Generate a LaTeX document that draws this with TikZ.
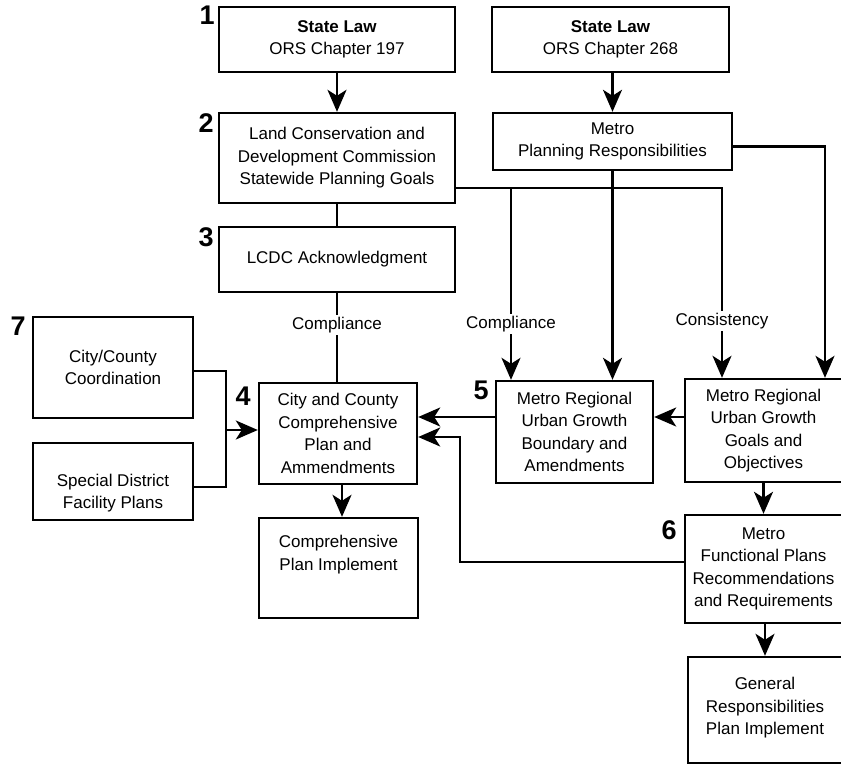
\documentclass[tikz,border=0pt]{standalone}
\usepackage{fontspec}
\setmainfont{Liberation Sans}
\usetikzlibrary{arrows.meta,positioning}

\begin{document}
\begin{tikzpicture}[x=1pt, y=-1pt,
    box/.style={rectangle, draw, line width=2.4pt, inner sep=2pt, align=center, font=\fontsize{17}{22.5}\selectfont},
    num/.style={anchor=north east, inner sep=0pt, font=\fontsize{27}{27}\selectfont\bfseries},
    arrow/.style={-{Stealth[length=22pt,width=19pt,inset=6pt]}, line width=2.4pt},
    link/.style={line width=2.4pt},
    tag/.style={fill=white, inner sep=2pt, font=\fontsize{17}{20}\selectfont}
]
\useasboundingbox (0,0) rectangle (841,764);

% state law and goals
\node[box, minimum width=236pt, minimum height=65pt] (law1) at (337,39.5) {\textbf{State Law}\\ORS Chapter 197};
\node[box, minimum width=237pt, minimum height=65pt] (law2) at (610.5,39.5) {\textbf{State Law}\\ORS Chapter 268};
\node[box, minimum width=236pt, minimum height=90pt] (lcdc) at (337,158) {Land Conservation and\\Development Commission\\Statewide Planning Goals};
\node[box, minimum width=239pt, minimum height=57pt] (metro) at (612.5,141.5) {Metro\\Planning Responsibilities};
\node[box, minimum width=236pt, minimum height=65pt] (ack) at (337,259.5) {LCDC Acknowledgment};

% local plans
\node[box, minimum width=160pt, minimum height=101pt] (coord) at (113,367.5) {City/County\\Coordination};
\node[box, minimum width=160pt, minimum height=77pt, text height=58pt] (special) at (113,481.5) {Special District\\Facility Plans};
\node[box, minimum width=158pt, minimum height=101pt] (comp) at (338,433.5) {City and County\\Comprehensive\\Plan and\\Ammendments};
\node[box, minimum width=159pt, minimum height=100pt, text depth=30pt] (impl) at (338.5,568) {Comprehensive\\Plan Implement};

% metro plans
\node[box, minimum width=157pt, minimum height=102pt] (ugb) at (574.5,432) {Metro Regional\\Urban Growth\\Boundary and\\Amendments};
\node[box, minimum width=157pt, minimum height=103pt] (goals) at (763.5,430.5) {Metro Regional\\Urban Growth\\Goals and\\Objectives};
\node[box, minimum width=157pt, minimum height=108pt] (func) at (763.5,569) {Metro\\Functional Plans\\Recommendations\\and Requirements};
\node[box, minimum width=154pt, minimum height=106pt, text depth=8pt] (gen) at (765,710) {General\\Responsibilities\\Plan Implement};

% step numbers
\node[num] (n1) at ([xshift=-3pt]law1.north west) {1};
\node[num] (n2) at ([xshift=-4pt,yshift=-2pt]lcdc.north west) {2};
\node[num] (n3) at ([xshift=-4pt,yshift=-2pt]ack.north west) {3};
\node[num] (n4) at ([xshift=-7pt,yshift=-5pt]comp.north west) {4};
\node[num] (n5) at ([xshift=-6pt,yshift=-1pt]ugb.north west) {5};
\node[num] (n6) at ([xshift=-7pt,yshift=-7pt]func.north west) {6};
\node[num] (n7) at ([xshift=-6pt,yshift=-1pt]coord.north west) {7};

\coordinate (split) at ([yshift=-30pt]lcdc.east);
\coordinate (cmpl) at ([xshift=-63.5pt]ugb.north);
\coordinate (join) at (226,430);
\coordinate (bend) at (460,437);
\coordinate (a5) at ([yshift=15pt]ugb.west);

\draw[arrow] (law1) -- (lcdc);
\draw[arrow] (law2.south -| metro.north) -- (metro.north);
\draw[link] (lcdc) -- (ack);
\draw[link] (ack.south) -- node[tag, pos=0.36] {Compliance} (ack.south |- comp.north);
\draw[arrow] (split) -| node[tag, pos=0.85] {Consistency} ([xshift=-41.5pt]goals.north);
\draw[arrow] (cmpl |- split) -- node[tag, pos=0.71] {Compliance} (cmpl);
\draw[arrow] (metro.south) -- (metro.south |- ugb.north);
\draw[arrow] ([yshift=-5pt]metro.east) -| ([xshift=61.5pt]goals.north);

\draw[link] ([yshift=-3.5pt]coord.east) -| (join) |- ([yshift=-5.5pt]special.east);
\draw[arrow] (join) -- (join -| comp.west);
\draw[arrow] (a5) -- (a5 -| comp.east);
\draw[arrow] (goals.west |- a5) -- (ugb.east |- a5);
\draw[arrow] ([yshift=7pt]func.west) -| (bend) -- (bend -| comp.east);
\draw[arrow] (goals.south) -- (goals.south |- func.north);
\draw[arrow] (gen.north |- func.south) -- (gen.north);
\draw[arrow] ([xshift=4pt]comp.south) -- ([xshift=4pt]comp.south |- impl.north);
\end{tikzpicture}
\end{document}
